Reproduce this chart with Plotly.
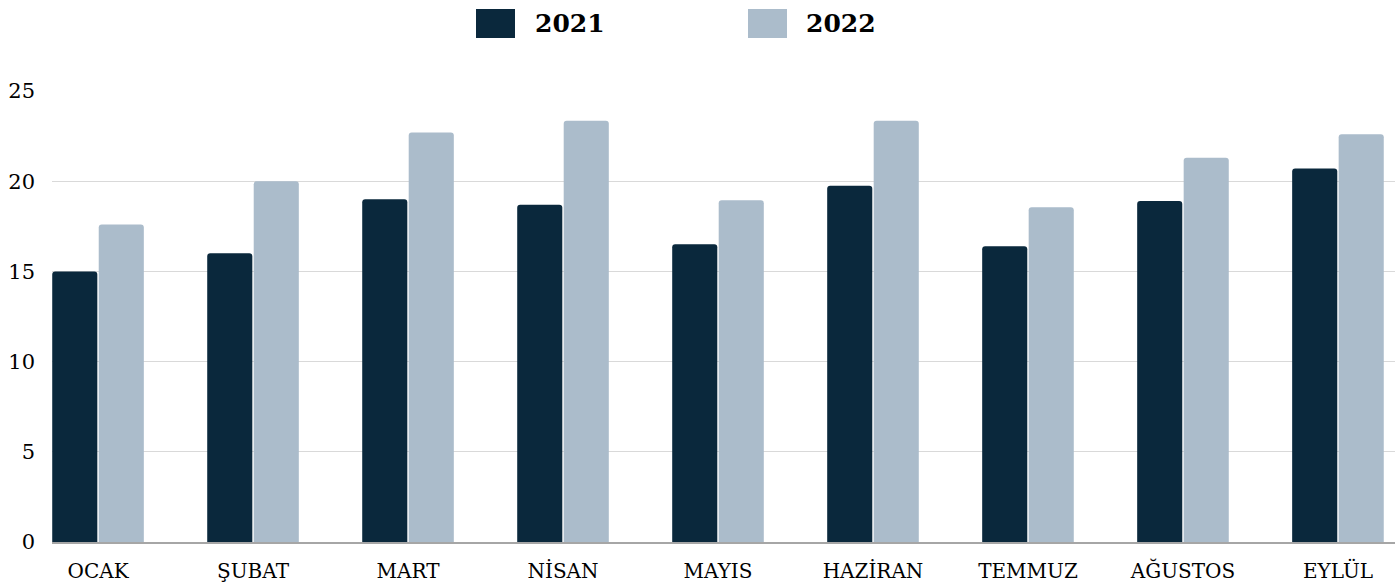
import plotly.graph_objects as go

months = ["OCAK", "ŞUBAT", "MART", "NİSAN", "MAYIS", "HAZİRAN", "TEMMUZ", "AĞUSTOS", "EYLÜL"]
series_names = ["2021", "2022"]
values_2021 = [15.0, 16.0, 19.0, 18.7, 16.5, 19.75, 16.4, 18.9, 20.7]
values_2022 = [17.6, 20.0, 22.7, 23.35, 18.95, 23.35, 18.55, 21.3, 22.6]
colors = ["#0a283c", "#abbccb"]
y_ticks = [0, 5, 10, 15, 20, 25]

FONT = "DejaVu Serif"

fig = go.Figure()
for name, vals, col in zip(series_names, [values_2021, values_2022], colors):
    fig.add_trace(go.Bar(x=months, y=vals, name=name, marker=dict(color=col, line=dict(width=0)),
                         showlegend=False))

# layout geometry (pixels)
W, H = 1395, 585
L, R, T, B = 52, 0, 91, 43
pw, ph = W - L - R, H - T - B

def px_x(px):
    return (px - L) / pw

def px_y(py):
    return (H - B - py) / ph

shapes = []
annotations = []
legend_items = [(476, 533), (748, 804)]
for (sx, tx), name, col in zip(legend_items, series_names, colors):
    shapes.append(dict(type="rect", xref="paper", yref="paper",
                       x0=px_x(sx), x1=px_x(sx + 39), y0=px_y(38), y1=px_y(9),
                       fillcolor=col, line=dict(width=0)))
    annotations.append(dict(xref="paper", yref="paper", x=px_x(tx), y=px_y(23.5),
                            xanchor="left", yanchor="middle", showarrow=False,
                            text="<b>%s</b>" % name,
                            font=dict(family=FONT, size=25, color="#000000")))

fig.update_layout(
    width=W, height=H,
    margin=dict(l=L, r=R, t=T, b=B, autoexpand=False),
    paper_bgcolor="white", plot_bgcolor="white",
    barmode="group", bargap=0.4, bargroupgap=0.03, barcornerradius=3,
    font=dict(family=FONT, size=20, color="#000000"),
    showlegend=False,
    shapes=shapes, annotations=annotations,
    xaxis=dict(range=[-0.297, 8.368], showgrid=False, showline=True, linecolor="#a6a6a6",
               linewidth=2, ticks="", ticklabelstandoff=10, automargin=False,
               tickfont=dict(family=FONT, size=20, color="#000000")),
    yaxis=dict(range=[0, 25], tickvals=y_ticks, showgrid=True, gridcolor="#d9d9d9", gridwidth=1,
               zeroline=False, showline=False, ticks="", ticklabelstandoff=16, automargin=False,
               tickfont=dict(family=FONT, size=21, color="#000000")),
)

fig.write_html("out.html", config={"displayModeBar": False},
               post_script="document.body.style.margin='0';document.body.style.overflow='hidden';")
